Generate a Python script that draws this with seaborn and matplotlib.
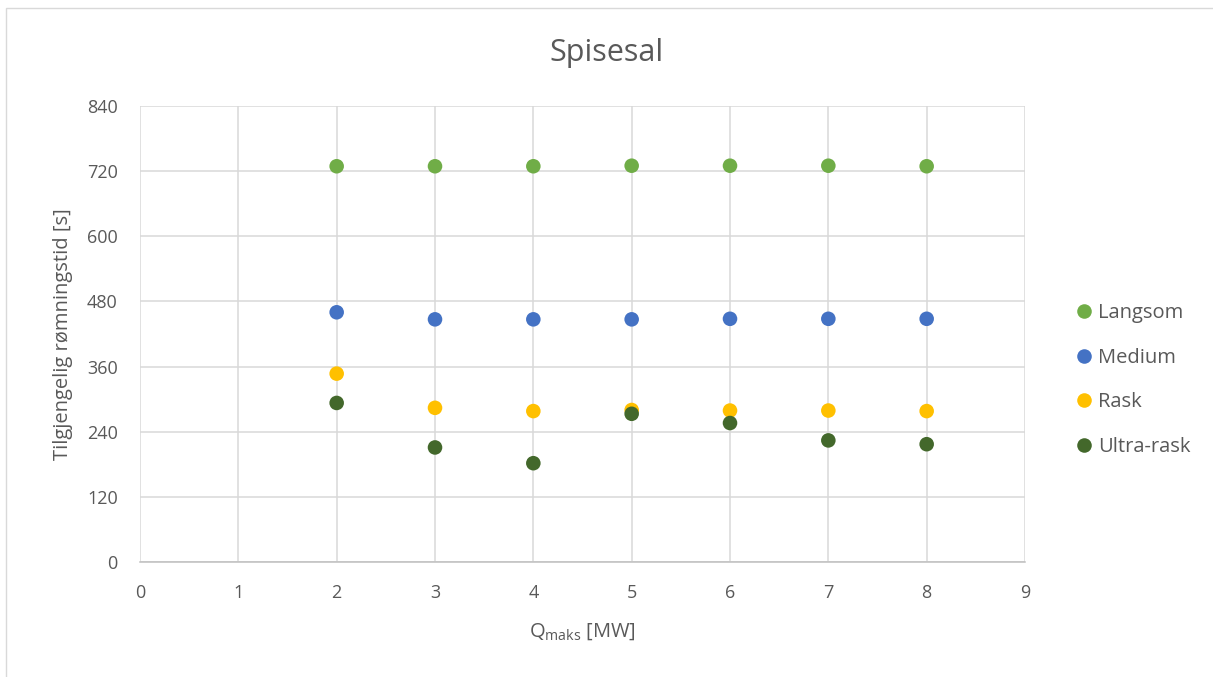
import matplotlib
matplotlib.use("Agg")
import matplotlib.pyplot as plt
import seaborn as sns
import pandas as pd
from matplotlib.patches import Rectangle

# Heat release rate (MW)
q_maks = [2, 3, 4, 5, 6, 7, 8]

# Available escape time (s) per fire growth rate
langsom = [729, 729, 729, 730, 730, 730, 729]
medium = [460, 447, 447, 447, 448, 448, 448]
rask = [347, 284, 278, 280, 279, 279, 278]
ultra_rask = [293, 211, 182, 273, 256, 224, 217]

series_names = ["Langsom", "Medium", "Rask", "Ultra-rask"]
series_colors = ["#70AD47", "#4472C4", "#FFC000", "#43682B"]

x_ticks = [0, 1, 2, 3, 4, 5, 6, 7, 8, 9]
y_ticks = [0, 120, 240, 360, 480, 600, 720, 840]

rows = []
for name, vals in zip(series_names, [langsom, medium, rask, ultra_rask]):
    for q, v in zip(q_maks, vals):
        rows.append({"Q": q, "t": v, "Serie": name})
df = pd.DataFrame(rows)

sns.set_theme(style="white")
plt.rcParams["font.family"] = ["Open Sans", "DejaVu Sans"]

fig = plt.figure(figsize=(12.13, 6.77), dpi=100)
ax = fig.add_axes([140 / 1213, 1 - 562 / 677, (1025 - 140) / 1213, (562 - 106) / 677])

sns.scatterplot(
    data=df, x="Q", y="t", hue="Serie", hue_order=series_names,
    palette=series_colors, s=110, edgecolor="none", linewidth=0, ax=ax,
    zorder=3,
)

ax.set_xlim(0, 9)
ax.set_ylim(0, 840)
ax.set_xticks(x_ticks)
ax.set_yticks(y_ticks)
ax.grid(True, color="#D9D9D9", linewidth=1.1, zorder=0)
ax.set_axisbelow(True)
for side in ["top", "right", "left"]:
    ax.spines[side].set_visible(False)
ax.spines["bottom"].set_color("#BFBFBF")
ax.spines["bottom"].set_linewidth(1.1)
ax.tick_params(axis="x", length=0, labelsize=13, colors="#595959", pad=16)
ax.tick_params(axis="y", length=0, labelsize=13, colors="#595959", pad=16)

ax.set_xlabel(r"Q$_{\mathregular{maks}}$ [MW]", fontsize=14.5, color="#595959", labelpad=14)
ax.set_ylabel("Tilgjengelig rømningstid [s]", fontsize=14.5, color="#595959", labelpad=10)
fig.text(0.5, 1 - 53 / 677, "Spisesal", ha="center", va="center",
         fontsize=22, color="#595959")

handles, labels = ax.get_legend_handles_labels()
ax.legend(
    handles, labels, loc="center left", bbox_to_anchor=(1058 / 1213, 1 - 380 / 677),
    bbox_transform=fig.transFigure, frameon=False, fontsize=14.5,
    labelcolor="#595959", labelspacing=1.22, handletextpad=-0.1,
    markerscale=1.0, borderpad=0, handlelength=1.6,
)

fig.patches.append(Rectangle((6 / 1213, -0.01), 1.1, 1 - 8 / 677 + 0.01,
                             transform=fig.transFigure, fill=False,
                             edgecolor="#D9D9D9", linewidth=1.0))

fig.savefig("out.png", dpi=100, facecolor="white")
